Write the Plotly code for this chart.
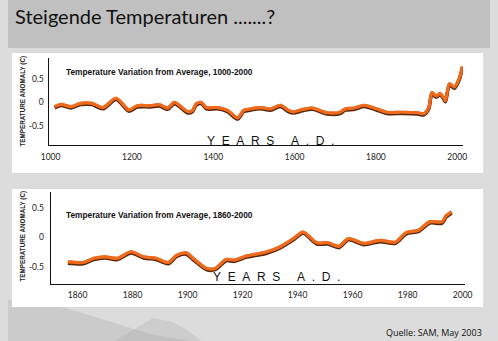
import plotly.graph_objects as go

W, H = 498, 341

# ---------------- data ----------------
years_1000 = [1010, 1026, 1050, 1074, 1102, 1129, 1161, 1193, 1213, 1245, 1268, 1288,
              1304, 1315, 1338, 1349, 1358, 1371, 1383, 1411, 1435, 1460, 1475, 1490,
              1517, 1541, 1565, 1585, 1597, 1620, 1644, 1680, 1712, 1724, 1748, 1771,
              1803, 1827, 1867, 1902, 1918, 1930, 1938, 1948, 1958, 1966, 1971, 1981,
              1993, 2005, 2013]
anom_1000 = [-0.09, -0.04, -0.09, -0.02, -0.02, -0.11, 0.09, -0.16, -0.07, -0.07, -0.05, -0.12,
             0.0, -0.05, -0.20, -0.17, -0.03, 0.0, -0.11, -0.11, -0.17, -0.33, -0.17, -0.14,
             -0.11, -0.14, -0.06, -0.17, -0.20, -0.15, -0.12, -0.22, -0.21, -0.14, -0.12, -0.06,
             -0.14, -0.21, -0.21, -0.22, -0.24, -0.11, 0.21, 0.14, 0.19, 0.11, 0.04, 0.40,
             0.33, 0.51, 0.77]

years_1860 = [1856.5, 1862, 1866, 1870, 1874.5, 1879.5, 1884, 1888.5, 1893, 1896, 1899.5,
              1902, 1907, 1910, 1914, 1917, 1921.5, 1925, 1929, 1933.5, 1938.5, 1942, 1947,
              1951, 1955, 1958.5, 1964, 1970, 1975.5, 1979.5, 1984, 1988, 1992.5, 1994, 1996]
anom_1860 = [-0.41, -0.42, -0.35, -0.325, -0.35, -0.24, -0.325, -0.35, -0.42, -0.30, -0.26,
             -0.35, -0.52, -0.52, -0.37, -0.38, -0.31, -0.28, -0.24, -0.16, -0.02, 0.09, -0.09,
             -0.09, -0.15, -0.02, -0.10, -0.05, -0.08, 0.08, 0.12, 0.26, 0.26, 0.36, 0.43]

ticks_1000 = [1000, 1200, 1400, 1600, 1800, 2000]
ticks_1860 = [1860, 1880, 1900, 1920, 1940, 1960, 1980, 2000]
y_ticks = [-0.5, 0, 0.5]
y_ticktext = ["-0.5", "0", "0.5"]

title_main = "Steigende Temperaturen .......?"
title_1 = "Temperature Variation from Average, 1000-2000"
title_2 = "Temperature Variation from Average, 1860-2000"
y_title = "TEMPERATURE ANOMALY (C)"
nb = "\u00a0"
x_title = (nb * 2).join("YEARS") + nb * 5 + (nb * 2).join("A.D.")
source = "Quelle: SAM, May 2003"

ORANGE = "#ee6b1e"
DARK = "#5a260c"


def px(x):
    return x / W


def py(y):
    return 1 - y / H


fig = go.Figure()

line_style = dict(shape="spline", smoothing=0.8)


def add_series(xs, ys, xa, ya_base, ya_shadow, ya_top):
    fig.add_trace(go.Scatter(x=xs, y=ys, mode="lines", xaxis=xa, yaxis=ya_base,
                             line=dict(color=ORANGE, width=3.2, **line_style),
                             showlegend=False))
    fig.add_trace(go.Scatter(x=xs, y=ys, mode="lines", xaxis=xa, yaxis=ya_shadow,
                             line=dict(color=DARK, width=3.6, **line_style),
                             hoverinfo="skip", showlegend=False))
    fig.add_trace(go.Scatter(x=xs, y=ys, mode="lines", xaxis=xa, yaxis=ya_top,
                             line=dict(color=ORANGE, width=3.2, **line_style),
                             hoverinfo="skip", showlegend=False))


add_series(years_1000, anom_1000, "x", "y", "y3", "y5")
add_series(years_1860, anom_1860, "x2", "y2", "y4", "y6")

tickfont = dict(family="Lato", size=8.5, color="#222")

r1 = [-0.91, 0.95]
r2 = [-0.78, 0.765]
s1 = 1.2 * (r1[1] - r1[0]) / (145 - 58)
s2 = 1.2 * (r2[1] - r2[0]) / (284 - 191.7)

axis_common = dict(showline=True, linecolor="#111", linewidth=1.4, showgrid=False,
                   zeroline=False, ticks="", tickfont=tickfont, fixedrange=True)

fig.update_layout(
    width=W, height=H,
    margin=dict(l=0, r=0, t=0, b=0),
    paper_bgcolor="#dcdcdc",
    plot_bgcolor="rgba(0,0,0,0)",
    showlegend=False,
    xaxis=dict(domain=[px(42), px(470)], range=[995.2, 2014], tickvals=ticks_1000,
               anchor="y", ticklabelstandoff=4, **axis_common),
    yaxis=dict(domain=[py(145), py(58)], range=r1, tickvals=y_ticks, ticktext=y_ticktext,
               anchor="x", ticklabelstandoff=2, **axis_common),
    yaxis3=dict(overlaying="y", range=[r1[0] + s1, r1[1] + s1], visible=False, anchor="x"),
    yaxis5=dict(overlaying="y", range=r1, visible=False, anchor="x"),
    xaxis2=dict(domain=[px(44.3), px(472)], range=[1850.3, 2000.8], tickvals=ticks_1860,
                anchor="y2", ticklabelstandoff=3, **axis_common),
    yaxis2=dict(domain=[py(284), py(191.7)], range=r2, tickvals=y_ticks, ticktext=y_ticktext,
                anchor="x2", ticklabelstandoff=4, **axis_common),
    yaxis4=dict(overlaying="y2", range=[r2[0] + s2, r2[1] + s2], visible=False, anchor="x2"),
    yaxis6=dict(overlaying="y2", range=r2, visible=False, anchor="x2"),
)

shapes = [
    dict(type="rect", xref="paper", yref="paper", x0=0, x1=1, y0=py(48), y1=1,
         fillcolor="#c0c0c0", line_width=0, layer="below"),
    # faint mountain texture in the lower left background
    dict(type="path", xref="paper", yref="paper",
         path="M 0,{a} L {b},{c} L {d},{e} L {f},0 L 0,0 Z".format(
             a=py(300), b=px(60), c=py(308), d=px(150), e=py(335), f=px(190)),
         fillcolor="rgba(150,150,150,0.25)", line_width=0, layer="below"),
    dict(type="path", xref="paper", yref="paper",
         path="M {a},0 L {b},{c} L {d},{e} L {f},{g} L {h},0 Z".format(
             a=px(110), b=px(150), c=py(318), d=px(170), e=py(322), f=px(185), g=py(330),
             h=px(200)),
         fillcolor="rgba(160,160,160,0.25)", line_width=0, layer="below"),
    dict(type="rect", xref="paper", yref="paper", x0=px(4), x1=px(491), y0=py(173), y1=py(53),
         fillcolor="#ffffff", line_width=0, layer="below"),
    dict(type="rect", xref="paper", yref="paper", x0=px(4), x1=px(491), y0=py(307), y1=py(189),
         fillcolor="#ffffff", line_width=0, layer="below"),
]
fig.update_layout(shapes=shapes)

ann = []
ann.append(dict(text=title_main, x=px(5), y=py(16), xref="paper", yref="paper",
                xanchor="left", yanchor="middle", showarrow=False,
                font=dict(family="Lato", size=20, color="#111")))
for ttl, yy in [(title_1, 72), (title_2, 215)]:
    ann.append(dict(text="<b>" + ttl + "</b>", x=px(58), y=py(yy), xref="paper", yref="paper",
                    xanchor="left", yanchor="middle", showarrow=False,
                    font=dict(family="Liberation Sans", size=8.3, color="#111")))
for yy in [101, 236]:
    ann.append(dict(text="<b>" + y_title + "</b>", x=px(15), y=py(yy), xref="paper", yref="paper",
                    xanchor="center", yanchor="middle", showarrow=False, textangle=-90,
                    font=dict(family="Liberation Sans", size=6.3, color="#222")))
for xx, yy in [(204, 141), (210, 277)]:
    ann.append(dict(text=x_title, x=px(xx), y=py(yy), xref="paper", yref="paper",
                    xanchor="left", yanchor="middle", showarrow=False,
                    font=dict(family="Liberation Sans", size=12, color="#111")))
ann.append(dict(text=source, x=px(492), y=py(332), xref="paper", yref="paper",
                xanchor="right", yanchor="middle", showarrow=False,
                font=dict(family="Open Sans", size=9, color="#111")))
fig.update_layout(annotations=ann)

fig.write_html("out.html")
